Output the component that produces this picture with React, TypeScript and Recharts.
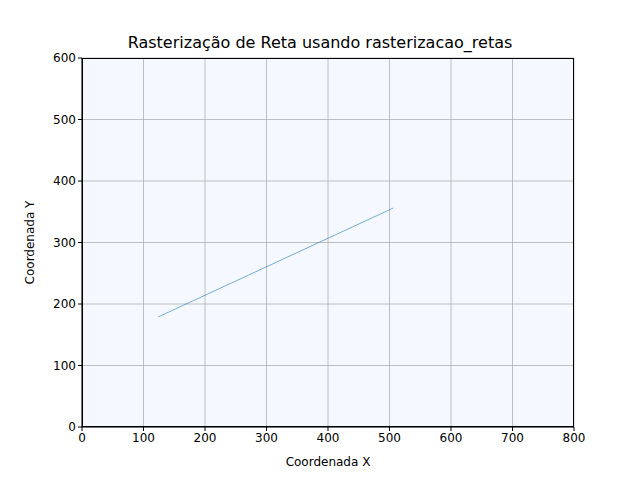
import React from 'react';
import { LineChart, Line, XAxis, YAxis, CartesianGrid } from 'recharts';

const lineData = [
  { x: 124, y: 179 },
  { x: 506, y: 356 },
];
const xTicks = [0, 100, 200, 300, 400, 500, 600, 700, 800];
const yTicks = [0, 100, 200, 300, 400, 500, 600];

export default function App() {
  const font = 'DejaVu Sans';
  return (
    <div style={{ position: 'absolute', left: 0, top: 0, width: 640, height: 480, background: '#fff', fontFamily: font }}>
      <div style={{ position: 'absolute', top: 33, width: 640, textAlign: 'center', fontSize: 16, color: '#000' }}>
        Rasterização de Reta usando rasterizacao_retas
      </div>
      <LineChart width={640} height={480} data={lineData} margin={{ top: 58, right: 66, bottom: 0, left: 0 }}>
        <CartesianGrid stroke="#b0b0b0" strokeWidth={0.8} fill="#f5f9ff" fillOpacity={1} />
        <XAxis type="number" dataKey="x" domain={[0, 800]} ticks={xTicks} height={53}
          tick={{ fill: '#000', fontSize: 12, fontFamily: font }} tickSize={4} stroke="#000"
          label={{ value: 'Coordenada X', position: 'insideBottom', offset: 14, fill: '#000', fontSize: 12, fontFamily: font }} />
        <YAxis type="number" domain={[0, 600]} ticks={yTicks} width={82}
          tick={{ fill: '#000', fontSize: 12, fontFamily: font }} tickSize={4} stroke="#000"
          label={{ value: 'Coordenada Y', angle: -90, position: 'insideLeft', offset: 30, fill: '#000', fontSize: 12, fontFamily: font, style: { textAnchor: 'middle' } }} />
        <Line dataKey="y" stroke="#1f77b4" strokeWidth={0.6} dot={false} isAnimationActive={false} />
      </LineChart>
      <div style={{ position: 'absolute', left: 82, top: 58, width: 492, height: 369, border: '0.8px solid #000', boxSizing: 'border-box', pointerEvents: 'none' }} />
    </div>
  );
}
